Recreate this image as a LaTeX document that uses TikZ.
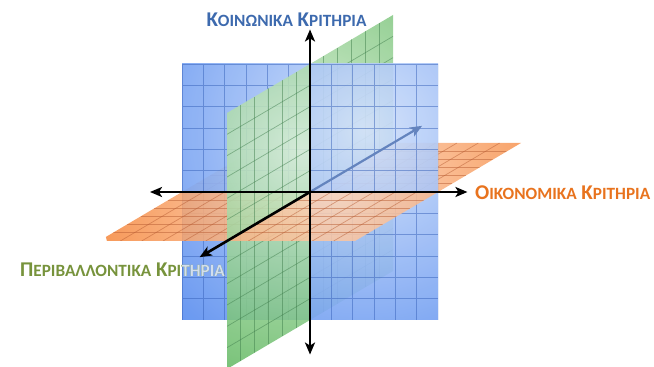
\documentclass[tikz,border=0pt]{standalone}
\usepackage{fontspec}
\setmainfont{Carlito}
\usetikzlibrary{arrows.meta}
\definecolor{planeblue}{HTML}{4C84EE}
\definecolor{lightblue}{HTML}{D3E2FA}
\definecolor{gridblue}{HTML}{3560B8}
\definecolor{planegreen}{HTML}{62B862}
\definecolor{lightgreen}{HTML}{D8EFD5}
\definecolor{gridgreen}{HTML}{3F7E4C}
\definecolor{planeorange}{HTML}{F68C44}
\definecolor{lightorange}{HTML}{FCD8C0}
\definecolor{gridorange}{HTML}{B85C32}
\definecolor{backaxis}{HTML}{6484BE}
\definecolor{socblue}{HTML}{3D6AAE}
\definecolor{ecoorange}{HTML}{E8731E}
\definecolor{envgreen}{HTML}{77933C}
\definecolor{envlight}{HTML}{D2DEEE}

\newcommand\smc[1]{{\fontsize{17.2}{19}\selectfont #1}}

% quarter of the vertical front plane (x, z)
\newcommand\bluequad[2]{%
  \begin{scope}
    \clip (0,0,0) -- (#1,0,0) -- (#1,0,#2) -- (0,0,#2) -- cycle;
    \shade[inner color=lightblue, outer color=planeblue, fill opacity=0.92]
      (bluehl) circle[radius=300pt];
    \draw[gridline, gridblue, step=21.3333pt] (-1,0,-1) grid (1,0,1);
  \end{scope}}

% quarter of the vertical side plane (y, z)
\newcommand\greenquad[2]{%
  \begin{scope}
    \clip (0,0,0) -- (0,#1,0) -- (0,#1,#2) -- (0,0,#2) -- cycle;
    \shade[inner color=lightgreen, outer color=planegreen, fill opacity=0.88]
      (greenhl) circle[radius=240pt];
    \foreach \n in {1,...,5} {
      \draw[gridline, gridgreen] (0,#1*\n/6,0) -- (0,#1*\n/6,#2);
      \draw[gridline, gridgreen] (0,0,#2*\n/6) -- (0,#1,#2*\n/6);
    }
  \end{scope}}

% quarter of the horizontal plane (x, y)
\newcommand\orangequad[2]{%
  \begin{scope}
    \clip (0,0,0) -- (#1,0,0) -- (#1,#2,0) -- (0,#2,0) -- cycle;
    \shade[inner color=lightorange, outer color=planeorange, fill opacity=0.88]
      (orangehl) circle[radius=230pt];
    \foreach \n in {1,...,5} {
      \draw[gridline, gridorange] (#1*\n/6,0,0) -- (#1*\n/6,#2,0);
      \draw[gridline, gridorange] (0,#2*\n/6,0) -- (#1,#2*\n/6,0);
    }
  \end{scope}}

\begin{document}
\begin{tikzpicture}[
  x=1pt, y=1pt,
  >={Stealth[length=12pt, width=10pt, inset=3pt]},
  axis/.style={->, line width=2.6pt},
  gridline/.style={line width=0.7pt, opacity=0.5},
  labeltext/.style={font=\fontsize{21}{23}\selectfont\bfseries, inner sep=0pt}
]
\useasboundingbox (0,0) rectangle (654,367);

% ── Highlight centres of the planes ──
\coordinate (bluehl) at (365,237);
\coordinate (greenhl) at (300,217);
\coordinate (orangehl) at (330,182);

\begin{scope}[shift={(310pt,175pt)}, x={(128pt,0pt)}, y={(83pt,49pt)}, z={(0pt,128pt)}]
  \coordinate (O) at (0,0,0);
  \coordinate (xR) at (1.23,0,0);
  \coordinate (xL) at (-1.25,0,0);
  \coordinate (zT) at (0,0,1.27);
  \coordinate (zB) at (0,0,-1.27);
  \coordinate (yF) at (0,-1.33,0);
  \coordinate (yB) at (0,1.35,0);

  % ── Farthest quarters ──
  \bluequad{-1}{-1}
  \greenquad{1}{-1}
  \orangequad{-1}{1}

  % ── Middle quarters ──
  \bluequad{1}{-1}
  \bluequad{-1}{1}
  \greenquad{-1}{-1}
  \greenquad{1}{1}
  \orangequad{1}{1}
  \orangequad{-1}{-1}

  % ── Nearest quarters ──
  \bluequad{1}{1}
  \greenquad{-1}{1}
  \orangequad{1}{-1}

  % ── Back axis, seen through the front plane ──
  \draw[axis, backaxis, line width=2.2pt] (O) -- (yB);

  % ── Axes ──
  \draw[axis] (O) -- (xR);
  \draw[axis] (O) -- (xL);
  \draw[axis] (O) -- (zT);
  \draw[axis] (O) -- (zB);
  \draw[axis] (O) -- (yF);
\end{scope}

% ── Labels ──
\node[labeltext, socblue, anchor=base] (social) at (286.5,340.3)
  {Κ\smc{ΟΙΝΩΝΙΚΑ} Κ\smc{ΡΙΤΗΡΙΑ}};
\node[labeltext, ecoorange, anchor=base west] (economic) at (475,167)
  {Ο\smc{ΙΚΟΝΟΜΙΚΑ} Κ\smc{ΡΙΤΗΡΙΑ}};
\node[labeltext, envgreen, anchor=base west] (environ) at (20,90)
  {Π\smc{ΕΡΙΒΑΛΛΟΝΤΙΚΑ} Κ\smc{ΡΙΤΗΡΙΑ}};
\begin{scope}
  \clip (182,0) rectangle (438,367);
  \node[labeltext, envlight, anchor=base west] (environlight) at (20,90)
    {Π\smc{ΕΡΙΒΑΛΛΟΝΤΙΚΑ} Κ\smc{ΡΙΤΗΡΙΑ}};
\end{scope}

\end{tikzpicture}
\end{document}
